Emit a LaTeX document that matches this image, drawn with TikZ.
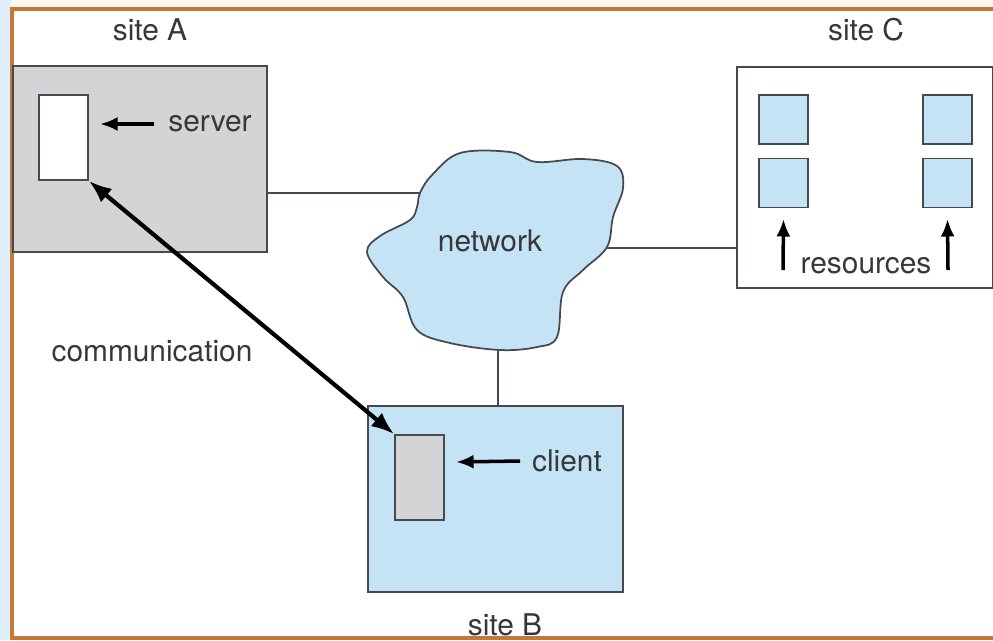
\documentclass[tikz,border=0pt]{standalone}
\usepackage{fontspec}
\setmainfont{TeX Gyre Heros}
\usetikzlibrary{arrows.meta}

\definecolor{netblue}{RGB}{196,228,246}
\definecolor{boxgray}{RGB}{210,212,214}
\definecolor{edge}{RGB}{70,74,80}
\definecolor{frame}{RGB}{196,122,52}
\definecolor{ink}{RGB}{55,55,58}

\tikzset{
  box/.style={draw=edge, line width=1pt, inner sep=0pt, minimum width=#1},
  res/.style={box=49*0.02cm, minimum height=49*0.02cm, fill=netblue},
  lbl/.style={text=ink, font=\fontsize{17}{20}\selectfont, inner sep=1pt},
  link/.style={edge, line width=1pt},
  point/.style={line width=2pt, -{Latex[length=10pt,width=8pt]}}
}

\begin{document}
\begin{tikzpicture}[x=0.02cm, y=-0.02cm]

\useasboundingbox (0,0) rectangle (993,640);
\fill [netblue!60] (0,0) rectangle (11,640);
\fill [orange!6] (11,0) rectangle (993,8);
\draw [frame, line width=2.5pt] (12,640) -- (12,9) -- (993,9);
\draw [frame, line width=2.5pt] (12,638) -- (993,638);

% site A
\node [lbl] (labA) at (150,30) {site A};
\node [box=254*0.02cm, minimum height=186*0.02cm, fill=boxgray] (siteA) at (140,159) {};
\node [box=49*0.02cm, minimum height=85*0.02cm, fill=white] (server) at (63.5,137.5) {};
\node [lbl] (labserver) at (210,124) {server};
\draw [point] (labserver.west) ++(-12,0) -- (100,124);

% network
\draw [edge, line width=1pt, fill=netblue] plot [smooth cycle, tension=0.6] coordinates {
  (420,193) (432,175) (460,153) (510,152) (537,162) (583,159) (617,166)
  (623,188) (613,217) (607,247) (583,270) (563,292) (557,337) (537,347)
  (500,350) (450,343) (417,330) (403,297) (383,277) (367,252) (380,236)
  (410,220) (417,207)};
\node [lbl] (network) at (490,241) {network};
\coordinate (netW) at (420,193);
\coordinate (netE) at (607,248);
\coordinate (netS) at (498,350);

% site C
\node [lbl] (labC) at (866,30) {site C};
\node [box=256*0.02cm, minimum height=221*0.02cm, fill=white] (siteC) at (865,177.5) {};
\node [res] (r1) at (783.5,119.5) {};
\node [res] (r2) at (783.5,183) {};
\node [res] (r3) at (947.5,119.5) {};
\node [res] (r4) at (947.5,183) {};
\node [lbl] (labres) at (866,266) {resources};
\coordinate (upL) at (783,270);
\coordinate (upR) at (948,270);
\draw [point] (upL) -- ([yshift=-6]r2.south);
\draw [point] (upR) -- ([yshift=-6]r4.south);

% site B
\node [box=255*0.02cm, minimum height=186*0.02cm, fill=netblue] (siteB) at (495.5,499) {};
\node [box=49*0.02cm, minimum height=85*0.02cm, fill=boxgray] (client) at (419.5,477.5) {};
\node [lbl] (labclient) at (567,461) {client};
\draw [point] (labclient.west) ++(-10,0) -- (456,462);
\node [lbl] (labB) at (505,625) {site B};

% links
\draw [link] (siteA.east |- netW) -- (netW);
\draw [link] (netE) -- (siteC.west |- netE);
\draw [link] (netS) -- (siteB.north -| netS);

\draw [line width=2.4pt, {Latex[length=13pt,width=10pt]}-{Latex[length=13pt,width=10pt]}]
  (server.south east) -- (client.north west);
\node [lbl] (labcomm) at (152,351) {communication};

\end{tikzpicture}
\end{document}
